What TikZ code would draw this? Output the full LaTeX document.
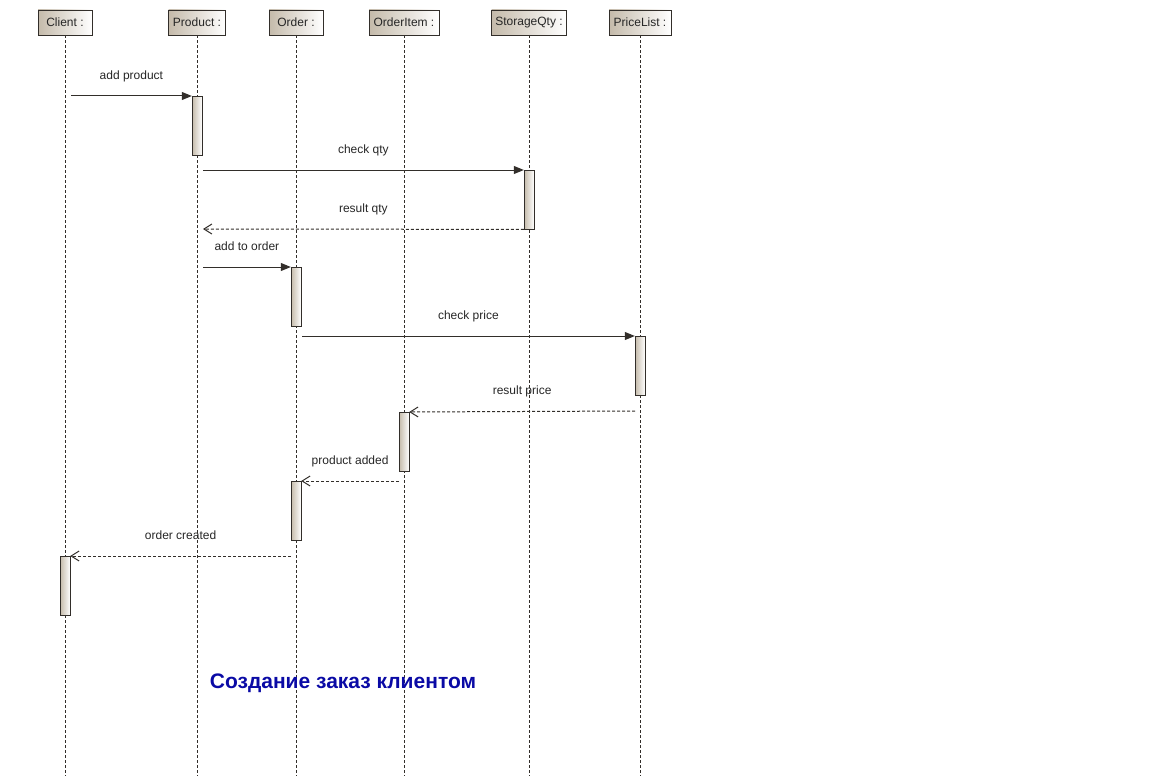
\documentclass[tikz,border=0pt]{standalone}
\usepackage{fontspec}
\setmainfont{Liberation Sans}
\usetikzlibrary{arrows.meta,positioning}

\definecolor{hdrtan}{RGB}{196,186,170}
\definecolor{linegray}{RGB}{50,46,42}
\definecolor{titleblue}{RGB}{10,10,165}

\begin{document}
\begin{tikzpicture}[
  x=1pt, y=-1pt,
  font=\fontsize{12}{14}\selectfont,
  hnode/.style={draw=linegray, left color=hdrtan, right color=white, minimum height=25pt, inner sep=0pt, text=black!85},
  bnode/.style={draw=linegray, left color=hdrtan, right color=white, minimum width=10pt, minimum height=59pt, inner sep=0pt, anchor=north},
  mlabel/.style={midway, yshift=20pt, text height=9pt, text depth=2.5pt, inner sep=0pt, text=black!85},
  lifeline/.style={draw=linegray, dash pattern=on 3pt off 2pt, line width=0.9pt},
  call/.style={draw=linegray, line width=1pt, -{Triangle[length=10pt,width=8pt]}},
  reply/.style={draw=linegray, line width=1pt, dash pattern=on 3pt off 2pt, -{Straight Barb[length=8pt,width=10pt]}}
  ]

\useasboundingbox (0,0) rectangle (1152,776);

\node [hnode, minimum width=54pt] (client) at (65,22.5) {Client :};
\node [hnode, minimum width=57pt] (product) at (197,22.5) {Product :};
\node [hnode, minimum width=54pt] (order) at (296,22.5) {Order :};
\node [hnode, minimum width=70pt] (orderitem) at (404,22.5) {OrderItem :};
\node [hnode, minimum width=75pt] (storage) at (529,22.5) {StorageQty :};
\node [hnode, minimum width=62pt] (pricelist) at (640,22.5) {PriceList :};

\coordinate (clientend) at (65,776);
\coordinate (productend) at (197,776);
\coordinate (orderend) at (296,776);
\coordinate (orderitemend) at (404,776);
\coordinate (storageend) at (529,776);
\coordinate (pricelistend) at (640,776);

\draw [lifeline] (client) -- (clientend);
\draw [lifeline] (product) -- (productend);
\draw [lifeline] (order) -- (orderend);
\draw [lifeline] (orderitem) -- (orderitemend);
\draw [lifeline] (storage) -- (storageend);
\draw [lifeline] (pricelist) -- (pricelistend);

\node [bnode] (prodact) at (197,96) {};
\node [bnode] (storeact) at (529,170) {};
\node [bnode] (ordact) at (296,267) {};
\node [bnode] (priceact) at (640,336) {};
\node [bnode] (itemact) at (404,412) {};
\node [bnode] (ordact2) at (296,481) {};
\node [bnode] (clientact) at (65,556) {};

\coordinate (m1) at (71,96);
\coordinate (m2) at (203,170);
\coordinate (m3) at (203,229);
\coordinate (m4) at (203,267);
\coordinate (m5) at (302,336);
\coordinate (m6) at (635,411);
\coordinate (m7) at (399,481);
\coordinate (m8) at (291,556);

\draw [call] (m1) -- node [mlabel] {add product} (prodact.north west);
\draw [call] (m2) -- node [mlabel] {check qty} (storeact.north west);
\draw [reply] (storeact.south west) -- node [mlabel] {result qty} (m3);
\draw [call] (m4) -- node [mlabel] {add to order} (ordact.north west);
\draw [call] (m5) -- node [mlabel] {check price} (priceact.north west);
\draw [reply] (m6) -- node [mlabel] {result price} (itemact.north east);
\draw [reply] (m7) -- node [mlabel] {product added} (ordact2.north east);
\draw [reply] (m8) -- node [mlabel] {order created} (clientact.north east);

\node [font=\fontsize{21}{25}\selectfont\bfseries, text=titleblue] (title) at (343,683) {Создание заказ клиентом};

\end{tikzpicture}
\end{document}
